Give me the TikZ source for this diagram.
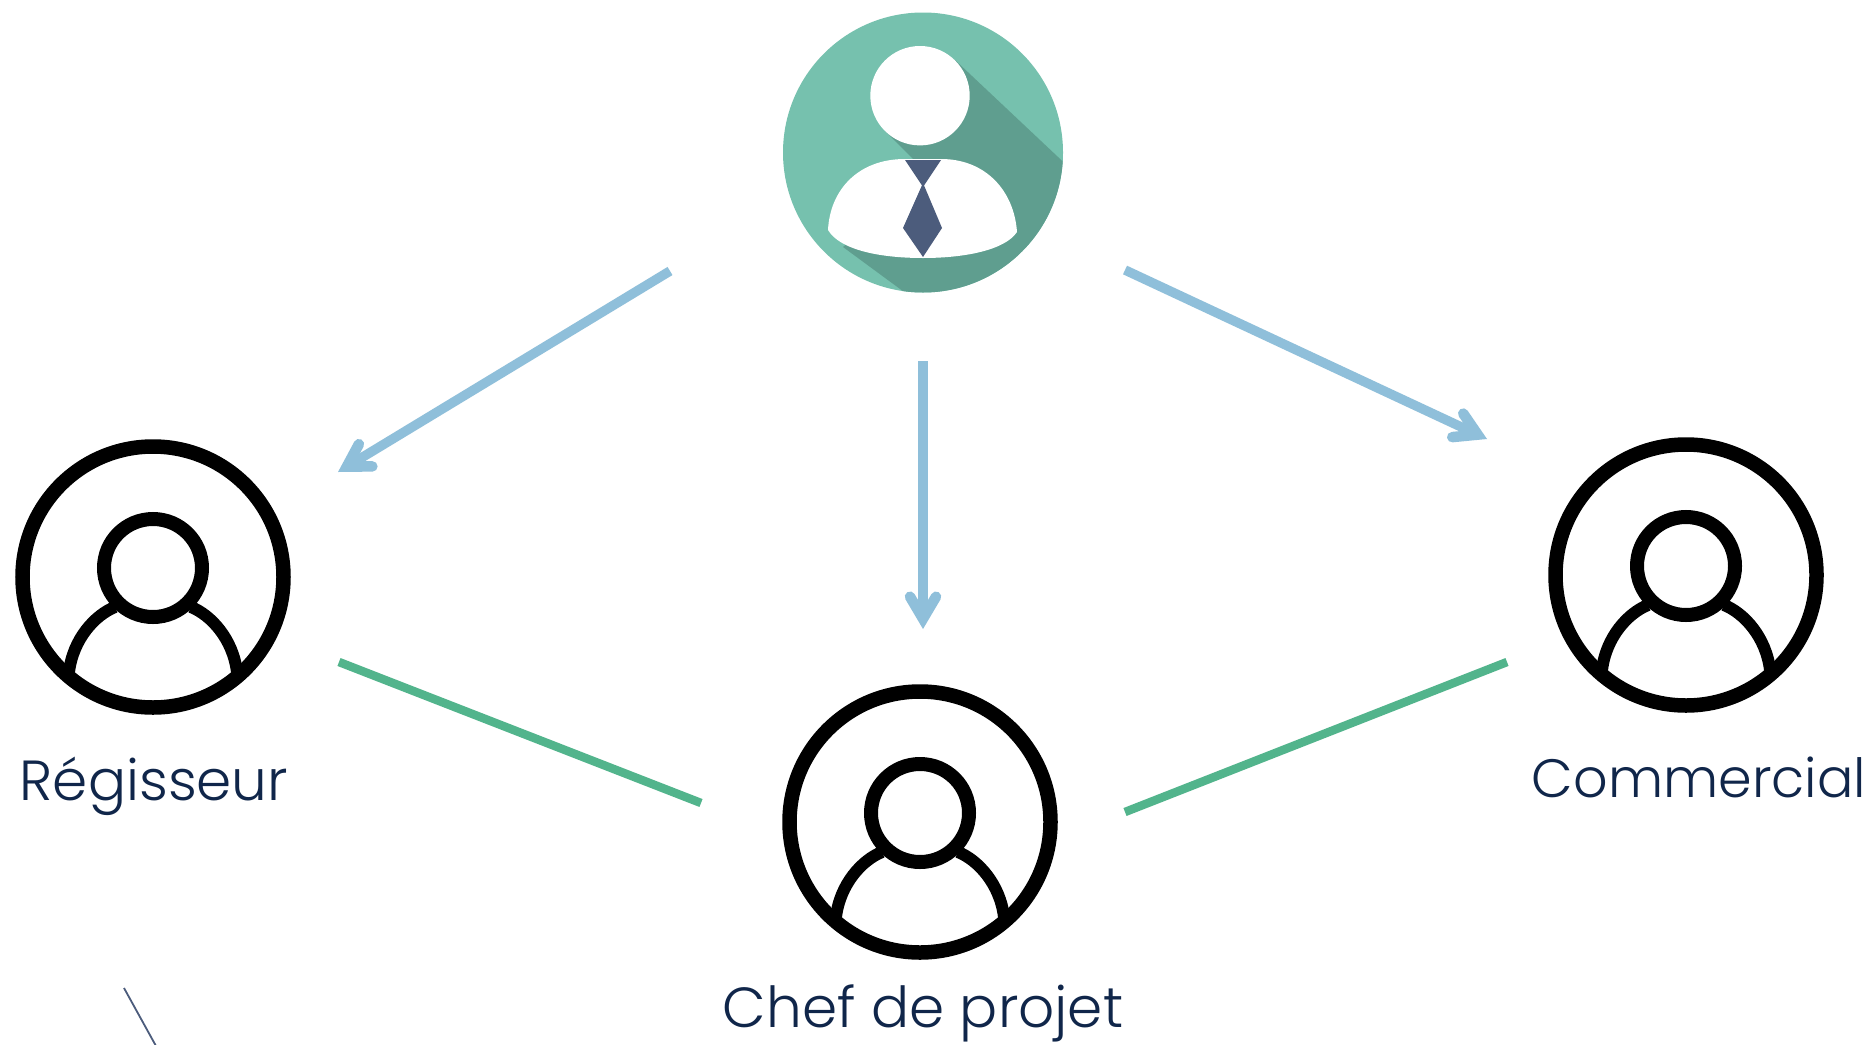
\documentclass[tikz,border=0pt]{standalone}
\usepackage{fontspec}
\usetikzlibrary{arrows.meta}
\newfontfamily\labfont[UprightFont=* Light]{Poppins}
\definecolor{teal1}{HTML}{76C1AE}
\definecolor{teal2}{HTML}{5F9E8F}
\definecolor{tiecol}{HTML}{4C5C7C}
\definecolor{bluearrow}{HTML}{8FBFDA}
\definecolor{greenline}{HTML}{52B48C}
\definecolor{navy}{HTML}{10264A}
\definecolor{thinline}{HTML}{4C5C7C}
\tikzset{
  x=1pt,y=-1pt,
  arrowline/.style={draw=bluearrow,line width=9.5pt,-{Straight Barb[length=22pt,width=26pt,line width=10.5pt,line cap=round,line join=miter]}},
  greenlink/.style={draw=greenline,line width=8.5pt},
  lab/.style={text=navy,font=\labfont\fontsize{56.5}{68}\selectfont,inner sep=0pt,anchor=base},
  ringstroke/.style={draw=black,line width=14.5pt},
  pics/usericon/.style={code={
    \draw[line width=12pt] (-38,30) .. controls (-58,38) and (-80,62) .. (-84,95);
    \draw[line width=12pt] (38,30) .. controls (58,38) and (80,62) .. (84,95);
    \draw[ringstroke,line width=14pt,fill=white] (0,-9) circle[radius=49];
    \draw[ringstroke] (0,0) circle[radius=130.5];
  }}
}
\begin{document}
\begin{tikzpicture}
\useasboundingbox (0,0) rectangle (1873,1044);
\fill[white] (0,0) rectangle (1873,1044);
% top figure
\node[circle,fill=teal1,minimum size=280pt,inner sep=0pt] (boss) at (923,152.5) {};
\begin{scope}
\clip (923,152.5) circle[radius=140];
\fill[teal2] (955,60) -- (1075,173) -- (1075,300) -- (915,300) -- (843,247) -- (900,200) -- (913,159) -- (885,131) -- cycle;
\end{scope}
\fill[white] (920,95.7) circle[radius=49.7];
\fill[white] (828,230) .. controls (830,190) and (858,159) .. (905,159) -- (941,159)
  .. controls (985,159) and (1014,190) .. (1017,232)
  .. controls (1005,250) and (965,258) .. (923,258)
  .. controls (880,258) and (840,250) .. (828,230) -- cycle;
\fill[tiecol] (905,160) -- (941,160) -- (923,187) -- cycle;
\fill[tiecol] (923,183) -- (942,228) -- (923,257) -- (903,228) -- cycle;
% icons
\node[circle,minimum size=275pt,inner sep=0pt] (reg) at (153,577) {};
\pic at (reg.center) {usericon};
\node[circle,minimum size=275pt,inner sep=0pt] (com) at (1686,575) {};
\pic at (com.center) {usericon};
\node[circle,minimum size=275pt,inner sep=0pt] (chef) at (920,822) {};
\pic at (chef.center) {usericon};
% labels
\node[lab] (lreg) at (154,800) {Régisseur};
\node[lab] (lcom) at (1699,797) {\fontsize{54}{65}\selectfont Commercial};
\node[lab] (lchef) at (923,1027) {Chef de projet};
% connector ends
\coordinate (a1s) at (670,271); \coordinate (a1e) at (338,472);
\coordinate (a2s) at (923,361); \coordinate (a2e) at (923,629);
\coordinate (a3s) at (1125,270); \coordinate (a3e) at (1487,439);
\coordinate (g1s) at (339,662); \coordinate (g1e) at (701,803);
\coordinate (g2s) at (1507,662); \coordinate (g2e) at (1125,812);
\coordinate (t1s) at (124,988); \coordinate (t1e) at (156,1046);
\draw[arrowline] (a1s) -- (a1e);
\draw[arrowline] (a2s) -- (a2e);
\draw[arrowline] (a3s) -- (a3e);
\draw[greenlink] (g1s) -- (g1e);
\draw[greenlink] (g2s) -- (g2e);
\draw[thinline,line width=1.8pt] (t1s) -- (t1e);
\end{tikzpicture}
\end{document}
